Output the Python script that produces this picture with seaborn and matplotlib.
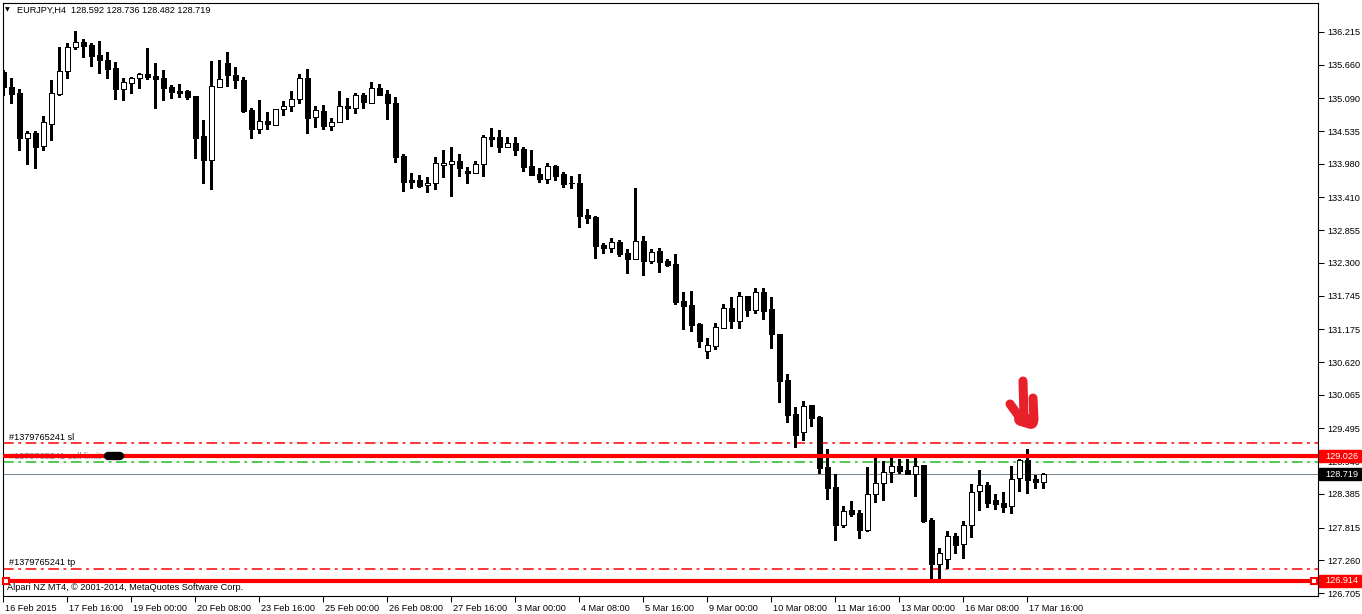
import matplotlib
matplotlib.use("Agg")
import matplotlib.pyplot as plt
import matplotlib.transforms as mtransforms
from matplotlib.patches import Rectangle
from matplotlib.lines import Line2D
import seaborn as sns
import numpy as np

# ---------------- data ----------------
opens = [135.537, 135.283, 135.176, 134.423, 134.503, 134.277, 134.660, 135.169, 135.549, 135.955,
         136.040, 135.994, 135.825, 135.740, 135.604, 135.254, 135.355, 135.430, 135.503, 135.474,
         135.435, 135.283, 135.215, 135.215, 135.130, 134.452, 134.050, 135.288, 135.684, 135.486,
         135.396, 134.888, 134.576, 134.701, 134.643, 134.904, 134.955, 135.074, 135.430, 134.769,
         134.871, 134.626, 134.684, 134.955, 134.931, 135.142, 135.006, 135.265, 135.164, 135.011,
         134.113, 133.706, 133.701, 133.616, 133.650, 133.965, 133.972, 134.023, 133.859, 133.830,
         133.972, 134.435, 134.435, 134.270, 134.328, 134.232, 133.944, 133.808, 133.728, 133.944,
         133.808, 133.660, 133.660, 133.113, 133.079, 132.599, 132.559, 132.655, 132.469, 132.372,
         132.667, 132.338, 132.498, 132.333, 132.282, 131.655, 131.582, 131.265, 130.813, 130.897,
         131.203, 131.536, 131.321, 131.735, 131.508, 131.803, 131.520, 131.096, 130.316, 129.735,
         129.430, 129.887, 129.689, 128.841, 128.502, 127.863, 128.113, 128.062, 127.778, 128.379,
         128.565, 128.752, 128.858, 128.791, 128.728, 128.875, 127.943, 127.202, 127.277, 127.667,
         127.531, 127.853, 128.430, 128.531, 128.277, 128.231, 128.175, 128.650, 128.955, 128.633,
         128.592]
highs = [135.571, 135.440, 135.249, 134.537, 134.537, 134.796, 135.401, 135.955, 136.023, 136.232,
         136.096, 136.023, 136.062, 135.871, 135.706, 135.430, 135.457, 135.525, 135.943, 135.689,
         135.571, 135.317, 135.328, 135.232, 135.130, 134.723, 135.723, 135.740, 135.876, 135.627,
         135.452, 134.921, 135.062, 134.854, 134.904, 135.045, 135.215, 135.503, 135.582, 134.960,
         134.977, 134.757, 135.215, 135.096, 135.176, 135.176, 135.362, 135.333, 135.232, 135.113,
         134.142, 133.830, 133.791, 133.752, 134.096, 134.215, 134.265, 134.147, 133.932, 134.023,
         134.469, 134.583, 134.549, 134.430, 134.430, 134.260, 134.215, 133.905, 134.000, 133.960,
         133.837, 133.774, 133.808, 133.215, 133.096, 132.638, 132.723, 132.689, 132.531, 133.570,
         132.757, 132.537, 132.548, 132.372, 132.452, 131.808, 131.825, 131.277, 131.023, 131.277,
         131.604, 131.718, 131.808, 131.735, 131.876, 131.876, 131.723, 131.096, 130.418, 129.853,
         129.960, 129.887, 129.706, 129.147, 128.728, 128.180, 128.265, 128.113, 128.841, 128.994,
         128.943, 128.994, 128.977, 128.977, 129.062, 128.875, 127.977, 127.468, 127.762, 127.718,
         127.926, 128.553, 128.791, 128.587, 128.379, 128.418, 128.853, 128.977, 129.147, 128.706,
         128.736]
lows = [135.147, 135.016, 134.215, 133.982, 133.915, 134.220, 134.384, 135.147, 135.440, 135.927,
        135.796, 135.643, 135.525, 135.440, 135.084, 135.067, 135.186, 135.271, 135.413, 134.932,
        135.067, 135.101, 135.118, 135.074, 134.084, 133.660, 133.548, 135.277, 135.305, 135.260,
        134.854, 134.423, 134.498, 134.576, 134.633, 134.808, 134.876, 135.016, 134.508, 134.610,
        134.570, 134.559, 134.684, 134.740, 134.847, 134.931, 135.006, 135.142, 134.740, 134.016,
        133.525, 133.575, 133.592, 133.508, 133.559, 133.762, 133.440, 133.779, 133.660, 133.820,
        133.779, 134.287, 134.186, 134.270, 134.137, 133.859, 133.791, 133.672, 133.660, 133.706,
        133.592, 133.570, 132.914, 132.982, 132.389, 132.469, 132.491, 132.418, 132.135, 132.372,
        132.101, 132.304, 132.152, 132.248, 131.609, 131.181, 131.152, 130.880, 130.694, 130.847,
        131.203, 131.203, 131.203, 131.406, 131.457, 131.355, 130.863, 129.948, 129.604, 129.185,
        129.299, 129.536, 128.745, 128.299, 127.609, 127.830, 128.016, 127.643, 127.761, 128.253,
        128.287, 128.592, 128.745, 128.728, 128.355, 127.914, 126.926, 126.926, 127.135, 127.389,
        127.304, 127.660, 128.118, 128.168, 128.135, 128.084, 128.067, 128.440, 128.396, 128.481,
        128.482]
closes = [135.283, 135.169, 134.423, 134.503, 134.270, 134.684, 135.176, 135.549, 135.955, 136.040,
          135.982, 135.813, 135.745, 135.593, 135.254, 135.362, 135.435, 135.503, 135.457, 135.423,
          135.271, 135.203, 135.186, 135.118, 134.423, 134.050, 135.294, 135.413, 135.481, 135.396,
          134.881, 134.576, 134.701, 134.660, 134.904, 134.955, 135.074, 135.430, 134.762, 134.888,
          134.626, 134.689, 134.955, 134.931, 135.142, 135.023, 135.265, 135.152, 135.006, 134.101,
          133.677, 133.677, 133.609, 133.650, 133.989, 133.994, 134.023, 133.915, 133.830, 133.977,
          134.435, 134.406, 134.270, 134.328, 134.220, 133.932, 133.791, 133.723, 133.938, 133.774,
          133.638, 133.650, 133.096, 133.067, 132.593, 132.559, 132.655, 132.457, 132.372, 132.667,
          132.338, 132.481, 132.321, 132.270, 131.638, 131.575, 131.253, 130.982, 130.904, 131.215,
          131.536, 131.321, 131.735, 131.503, 131.803, 131.491, 131.096, 130.304, 129.728, 129.389,
          129.870, 129.677, 128.830, 128.490, 127.863, 128.096, 128.050, 127.778, 128.379, 128.565,
          128.752, 128.858, 128.779, 128.728, 128.858, 127.931, 127.202, 127.379, 127.667, 127.524,
          127.853, 128.413, 128.531, 128.236, 128.219, 128.168, 128.633, 128.955, 128.616, 128.582,
          128.719]

date_labels = ["16 Feb 2015", "17 Feb 16:00", "19 Feb 00:00", "20 Feb 08:00", "23 Feb 16:00",
               "25 Feb 00:00", "26 Feb 08:00", "27 Feb 16:00", "3 Mar 00:00", "4 Mar 08:00",
               "5 Mar 16:00", "9 Mar 00:00", "10 Mar 08:00", "11 Mar 16:00", "13 Mar 00:00",
               "16 Mar 08:00", "17 Mar 16:00"]
price_ticks = [136.215, 135.660, 135.090, 134.535, 133.980, 133.410, 132.855, 132.300, 131.745,
               131.175, 130.620, 130.065, 129.495, 128.940, 128.385, 127.815, 127.260, 126.705]

symbol = "EURJPY,H4"
sl_price = 129.248
limit_price = 128.926
tp_price = 127.113
line_high = 129.026
line_low = 126.914
bid_price = 128.719
order_id = "#1379765241"

# ---------------- figure ----------------
sns.set_theme(style="white")
plt.rcParams['font.family'] = ['Liberation Sans', 'DejaVu Sans']
FS = 6.6

W, H = 1362, 614
fig = plt.figure(figsize=(W / 100, H / 100), dpi=100)
fig.patch.set_facecolor("white")
L_, R_, T_, B_ = 3, 1318, 3, 596
ax = fig.add_axes([L_ / W, 1 - B_ / H, (R_ - L_) / W, (B_ - T_) / H])
ax.set_facecolor("white")

n = len(opens)
x = np.arange(n)
o = np.array(opens); h = np.array(highs); l = np.array(lows); c = np.array(closes)
up = c >= o

ax.set_xlim(-0.04, 164.34)
ax.set_ylim(126.655, 136.706)
ppx = (136.706 - 126.655) / (B_ - T_)   # price per pixel

# wicks
ax.vlines(x, l, h, color="black", linewidth=0.75, zorder=3, antialiased=False)
# bodies
bottoms = np.minimum(o, c)
heights = np.maximum(np.abs(c - o), ppx * 0.3)
ax.bar(x[~up], heights[~up], bottom=bottoms[~up], width=0.6, facecolor="black",
       edgecolor="black", linewidth=0.7, zorder=4, antialiased=False)
ax.bar(x[up], heights[up], bottom=bottoms[up], width=0.6, facecolor="white",
       edgecolor="black", linewidth=0.7, zorder=4, antialiased=False)

# order / level lines
dd = (0, (7, 3, 1.8, 3))
ax.axhline(sl_price, color="#ff0000", lw=1.1, ls=dd, zorder=2)
ax.axhline(tp_price, color="#ff0000", lw=1.1, ls=dd, zorder=2)
ax.axhline(limit_price, color="#22bb22", lw=1.1, ls=dd, zorder=2)
ax.axhline(bid_price, color="#778899", lw=0.55, zorder=2, antialiased=False)
ax.axhline(line_high, color="#ff0000", lw=3.0, zorder=5)
ax.axhline(line_low, color="#ff0000", lw=3.0, zorder=5)
ax.plot([0.34, 163.9], [line_low, line_low], ls="none", marker="s", ms=4,
        mfc="white", mec="red", mew=1.5, zorder=6, clip_on=False)

# texts on the lines
ax.text(0.7, sl_price + 1.5 * ppx, f"{order_id} sl", fontsize=FS, va="bottom", ha="left",
        color="black", zorder=1)
ax.text(0.7, limit_price + 1.5 * ppx, f"{order_id} sell limit", fontsize=FS, va="bottom",
        ha="left", color="#6688aa", zorder=1)
ax.text(0.7, tp_price + 1.5 * ppx, f"{order_id} tp", fontsize=FS, va="bottom", ha="left",
        color="black", zorder=1)
ax.text(0.45, line_low - 2.5 * ppx, "Alpari NZ MT4, \u00a9 2001-2014, MetaQuotes Software Corp.",
        fontsize=FS, va="top", ha="left", color="black", zorder=7)
# black scribble over the label
blob = mtransforms.blended_transform_factory(fig.transFigure, ax.transData)
ax.plot([108 / W, 120 / W], [limit_price + 6 * ppx] * 2, color="black", lw=6,
        solid_capstyle="round", transform=blob, zorder=6)

# axes styling
for s in ax.spines.values():
    s.set_color("black"); s.set_linewidth(0.8); s.set_visible(True)

ax.yaxis.tick_right()
ax.set_yticks(price_ticks)
ax.set_yticklabels([f"{v:.3f}" for v in price_ticks])
ax.tick_params(axis="y", direction="out", length=4, width=0.75, pad=3,
               labelsize=FS, colors="black", left=False, right=True)
ax.set_xticks(np.arange(0, 8 * len(date_labels), 8))
ax.set_xticklabels(date_labels)
ax.tick_params(axis="x", direction="out", length=4, width=0.75, pad=1.5,
               labelsize=FS, colors="black", bottom=True)
off = mtransforms.ScaledTranslation(1.5 / 100, 0, fig.dpi_scale_trans)
for lab in ax.get_xticklabels():
    lab.set_ha("left")
    lab.set_transform(lab.get_transform() + off)
ax.grid(False)

# price boxes on the right scale
def price_box(price, fc):
    hh = 12 * ppx
    r = Rectangle((1319 / W, price - hh / 2), 42 / W, hh, transform=blob, facecolor=fc,
                  edgecolor=fc, clip_on=False, zorder=10)
    ax.add_patch(r)
    ax.text(1325 / W, price, f"{price:.3f}", transform=blob, color="white", fontsize=FS,
            va="center", ha="left", zorder=11, clip_on=False)

price_box(line_high, "#ff0000")
price_box(bid_price, "black")
price_box(line_low, "#ff0000")

# title
fig.text(5 / W, 1 - 10 / H, "\u25bc", fontsize=4.5, va="center", ha="left", color="black",
         family="DejaVu Sans")
fig.text(17 / W, 1 - 10 / H, f"{symbol}  {opens[-1]:.3f} {highs[-1]:.3f} {lows[-1]:.3f} {closes[-1]:.3f}",
         fontsize=FS, va="center", ha="left", color="black")

# red hand-drawn arrow
def fpx(xx, yy):
    return [v / W for v in xx], [1 - v / H for v in yy]
hand = "#e8202a"
for (xs, ys, lw) in [((1023, 1024), (381, 416), 6.5),
                     ((1033, 1034), (398, 420), 6.5),
                     ((1010, 1018), (404, 415), 6.5),
                     ((1021, 1031), (419, 422), 10.0)]:
    fx, fy = fpx(xs, ys)
    fig.lines.append(Line2D(fx, fy, color=hand, lw=lw, solid_capstyle="round",
                            transform=fig.transFigure))

fig.savefig("out.png", dpi=100, facecolor="white")
